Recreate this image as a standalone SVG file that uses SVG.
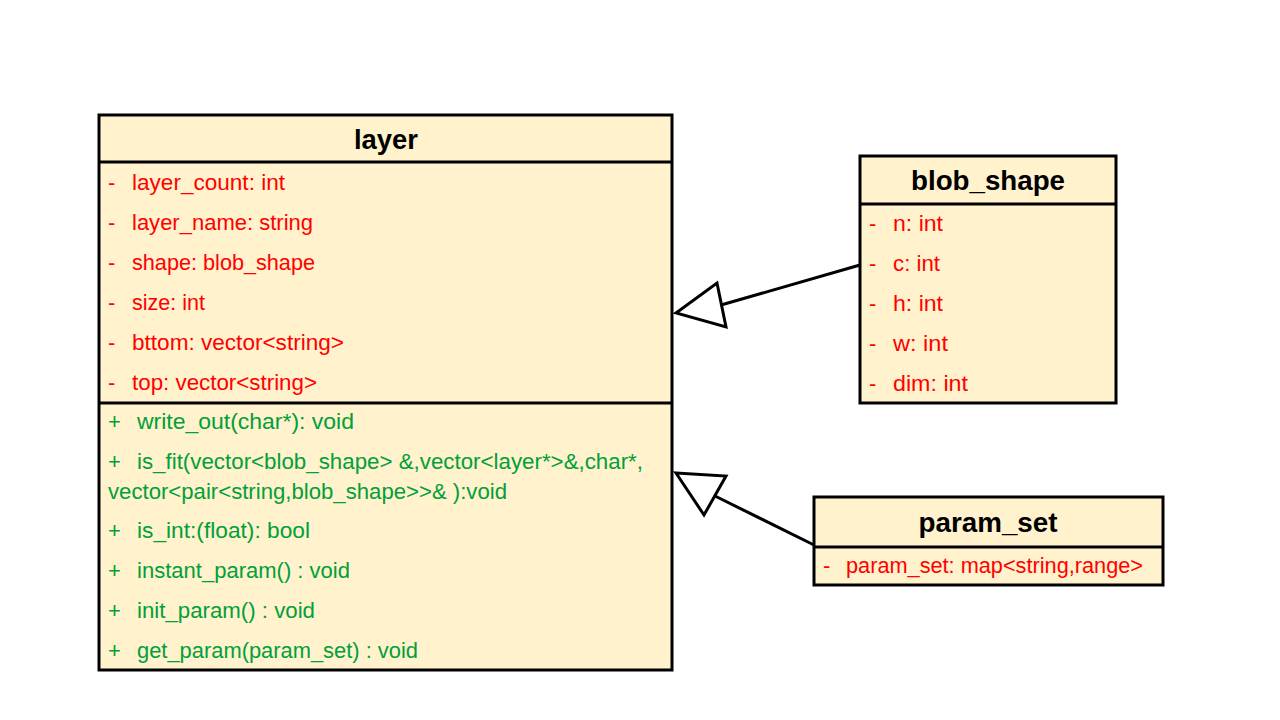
<svg xmlns="http://www.w3.org/2000/svg" width="1280" height="720" viewBox="0 0 1280 720">
<style>
.box{fill:#FFF2CC;stroke:#000;stroke-width:3}
.sep{stroke:#000;stroke-width:3}
.hd{font-family:"Liberation Sans",Arial,sans-serif;font-weight:bold;font-size:27px;fill:#000;text-anchor:middle}
.a{font-family:"Liberation Sans",Arial,sans-serif;font-size:22px;fill:#FF0000}
.m{font-family:"Liberation Sans",Arial,sans-serif;font-size:22px;fill:#00A03A}
.con{fill:none;stroke:#000;stroke-width:3}
.tri{fill:#fff;stroke:#000;stroke-width:3;stroke-linejoin:miter}
</style>
<rect width="1280" height="720" fill="#fff"/>
<g id="layer">
<rect class="box" x="99" y="115" width="573" height="555"/>
<line class="sep" x1="99" y1="162" x2="672" y2="162"/>
<line class="sep" x1="99" y1="403" x2="672" y2="403"/>
<text class="hd" x="386" y="149" textLength="64" lengthAdjust="spacingAndGlyphs">layer</text>
<text class="a" x="108" y="190">-</text><text class="a" x="132" y="190" textLength="153" lengthAdjust="spacingAndGlyphs">layer_count: int</text>
<text class="a" x="108" y="230">-</text><text class="a" x="132" y="230" textLength="181" lengthAdjust="spacingAndGlyphs">layer_name: string</text>
<text class="a" x="108" y="270">-</text><text class="a" x="132" y="270" textLength="183" lengthAdjust="spacingAndGlyphs">shape: blob_shape</text>
<text class="a" x="108" y="310">-</text><text class="a" x="132" y="310" textLength="73" lengthAdjust="spacingAndGlyphs">size: int</text>
<text class="a" x="108" y="350">-</text><text class="a" x="132" y="350" textLength="212" lengthAdjust="spacingAndGlyphs">bttom: vector&lt;string&gt;</text>
<text class="a" x="108" y="390">-</text><text class="a" x="132" y="390" textLength="185" lengthAdjust="spacingAndGlyphs">top: vector&lt;string&gt;</text>
<text class="m" x="108" y="429">+</text><text class="m" x="137" y="429" textLength="217" lengthAdjust="spacingAndGlyphs">write_out(char*): void</text>
<text class="m" x="108" y="469">+</text><text class="m" x="137" y="469" textLength="506" lengthAdjust="spacingAndGlyphs">is_fit(vector&lt;blob_shape&gt; &amp;,vector&lt;layer*&gt;&amp;,char*,</text>
<text class="m" x="108" y="499" textLength="399" lengthAdjust="spacingAndGlyphs">vector&lt;pair&lt;string,blob_shape&gt;&gt;&amp; ):void</text>
<text class="m" x="108" y="538">+</text><text class="m" x="137" y="538" textLength="173" lengthAdjust="spacingAndGlyphs">is_int:(float): bool</text>
<text class="m" x="108" y="578">+</text><text class="m" x="137" y="578" textLength="213" lengthAdjust="spacingAndGlyphs">instant_param() : void</text>
<text class="m" x="108" y="618">+</text><text class="m" x="137" y="618" textLength="178" lengthAdjust="spacingAndGlyphs">init_param() : void</text>
<text class="m" x="108" y="658">+</text><text class="m" x="137" y="658" textLength="281" lengthAdjust="spacingAndGlyphs">get_param(param_set) : void</text>
</g>
<g id="blob_shape">
<rect class="box" x="860" y="156" width="256" height="247"/>
<line class="sep" x1="860" y1="204" x2="1116" y2="204"/>
<text class="hd" x="988" y="190" textLength="154" lengthAdjust="spacingAndGlyphs">blob_shape</text>
<text class="a" x="869" y="231">-</text><text class="a" x="893" y="231" textLength="50" lengthAdjust="spacingAndGlyphs">n: int</text>
<text class="a" x="869" y="271">-</text><text class="a" x="893" y="271" textLength="47" lengthAdjust="spacingAndGlyphs">c: int</text>
<text class="a" x="869" y="311">-</text><text class="a" x="893" y="311" textLength="50" lengthAdjust="spacingAndGlyphs">h: int</text>
<text class="a" x="869" y="351">-</text><text class="a" x="893" y="351" textLength="55" lengthAdjust="spacingAndGlyphs">w: int</text>
<text class="a" x="869" y="391">-</text><text class="a" x="893" y="391" textLength="75" lengthAdjust="spacingAndGlyphs">dim: int</text>
</g>
<g id="param_set">
<rect class="box" x="814" y="497" width="349" height="88"/>
<line class="sep" x1="814" y1="547" x2="1163" y2="547"/>
<text class="hd" x="988" y="532" textLength="139" lengthAdjust="spacingAndGlyphs">param_set</text>
<text class="a" x="823" y="573">-</text><text class="a" x="846" y="573" textLength="297" lengthAdjust="spacingAndGlyphs">param_set: map&lt;string,range&gt;</text>
</g>
<g id="connectors">
<line class="con" x1="860" y1="265" x2="721" y2="305"/>
<polygon class="tri" points="676,313 717,283 726,327"/>
<line class="con" x1="814" y1="545" x2="715" y2="496"/>
<polygon class="tri" points="676,473 726,476 704,515"/>
</g>
</svg>
